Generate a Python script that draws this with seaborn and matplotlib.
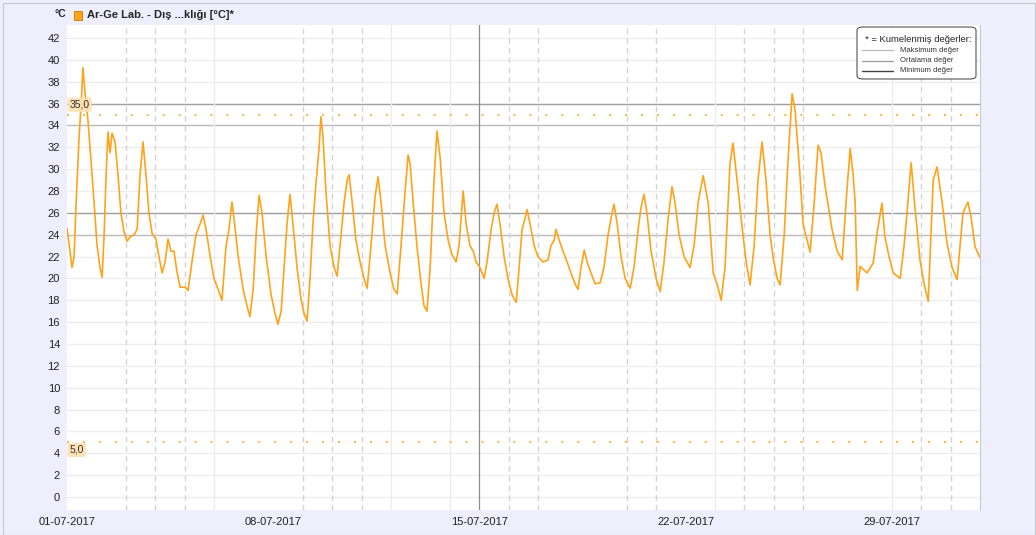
import pandas as pd
import matplotlib.pyplot as plt
from matplotlib.patches import Rectangle, FancyBboxPatch
from matplotlib.lines import Line2D
import seaborn as sns

# time (days since 01-07-2017 00:00) and temperature
days = [0.00, 0.10, 0.17, 0.24, 0.31, 0.41, 0.48, 0.54, 0.61, 0.71, 0.88, 1.02, 1.12, 1.19, 1.26, 1.32,
        1.39, 1.46, 1.53, 1.63, 1.73, 1.83, 1.94, 2.04, 2.14, 2.28, 2.38, 2.48, 2.58, 2.68, 2.78, 2.89,
        3.02, 3.12, 3.23, 3.33, 3.43, 3.53, 3.63, 3.74, 3.84, 4.01, 4.11, 4.24, 4.38, 4.52, 4.62, 4.72,
        4.86, 4.99, 5.13, 5.26, 5.40, 5.50, 5.60, 5.67, 5.81, 5.98, 6.11, 6.21, 6.32, 6.42, 6.52, 6.62,
        6.76, 6.93, 7.06, 7.16, 7.27, 7.37, 7.47, 7.57, 7.67, 7.81, 7.95, 8.05, 8.15, 8.25, 8.35, 8.46,
        8.56, 8.62, 8.69, 8.79, 8.93, 9.07, 9.17, 9.27, 9.41, 9.51, 9.58, 9.68, 9.81, 9.95, 10.08, 10.19,
        10.32, 10.46, 10.56, 10.66, 10.80, 10.97, 11.10, 11.21, 11.34, 11.48, 11.58, 11.65, 11.75, 11.88,
        12.02, 12.12, 12.22, 12.33, 12.46, 12.56, 12.67, 12.80, 12.94, 13.07, 13.21, 13.31, 13.45, 13.55,
        13.68, 13.79, 13.89, 14.02, 14.16, 14.26, 14.40, 14.50, 14.60, 14.70, 14.84, 14.97, 15.11, 15.25,
        15.35, 15.45, 15.55, 15.62, 15.72, 15.86, 15.99, 16.16, 16.33, 16.43, 16.54, 16.60, 16.71, 16.84,
        16.98, 17.11, 17.25, 17.35, 17.45, 17.56, 17.66, 17.79, 17.93, 18.10, 18.23, 18.37, 18.47, 18.57,
        18.68, 18.81, 18.95, 19.12, 19.25, 19.39, 19.49, 19.59, 19.69, 19.83, 20.00, 20.14, 20.27, 20.41,
        20.54, 20.64, 20.78, 20.95, 21.15, 21.29, 21.43, 21.60, 21.77, 21.94, 22.07, 22.21, 22.34, 22.51,
        22.61, 22.75, 22.92, 23.06, 23.19, 23.33, 23.46, 23.60, 23.73, 23.87, 23.97, 24.11, 24.21, 24.35,
        24.48, 24.62, 24.72, 24.89, 24.99, 25.13, 25.23, 25.37, 25.50, 25.60, 25.74, 25.98, 26.15, 26.32,
        26.45, 26.59, 26.69, 26.76, 26.83, 26.93, 27.16, 27.37, 27.50, 27.67, 27.77, 27.91, 28.05, 28.29,
        28.42, 28.52, 28.66, 28.79, 28.96, 29.10, 29.24, 29.41, 29.54, 29.71, 29.88, 30.05, 30.22, 30.42,
        30.59, 30.70, 30.83, 31.00]
temps = [24.6, 22.5, 21.0, 22.0, 27.0, 33.0, 36.0, 39.3, 37.0, 34.5, 28.4, 23.0, 21.0, 20.1, 24.0, 29.0,
         33.4, 31.5, 33.3, 32.5, 29.5, 26.0, 24.2, 23.4, 23.8, 24.0, 24.5, 29.5, 32.5, 29.5, 26.0, 24.1,
         23.6, 22.0, 20.5, 21.5, 23.6, 22.5, 22.5, 20.5, 19.2, 19.2, 18.9, 21.5, 24.0, 25.0, 25.8, 24.5,
         22.0, 20.0, 19.0, 18.0, 23.0, 24.5, 27.0, 25.5, 22.0, 19.0, 17.5, 16.5, 19.0, 24.0, 27.6, 26.0,
         22.0, 18.5, 16.8, 15.8, 17.0, 21.0, 25.0, 27.7, 25.0, 21.0, 18.0, 16.8, 16.1, 20.0, 25.0, 29.0,
         32.0, 34.8, 33.0, 28.0, 23.0, 21.0, 20.2, 23.0, 27.0, 29.0, 29.5, 27.0, 23.5, 21.5, 20.0, 19.1,
         23.0, 27.5, 29.3, 27.0, 23.0, 20.5, 19.0, 18.6, 23.0, 28.0, 31.3, 30.5, 27.0, 23.0,
         19.5, 17.5, 17.0, 21.0, 29.0, 33.5, 31.0, 26.0, 23.5, 22.2, 21.5, 23.0, 28.0, 25.0,
         23.0, 22.5, 21.5, 21.0, 20.0, 21.5, 24.5, 26.0, 26.8, 25.0, 22.0, 20.0, 18.5, 17.8,
         21.0, 24.5, 25.5, 26.3, 25.0, 23.0, 22.0, 21.5, 21.7, 23.0, 23.5, 24.5, 23.5, 22.5,
         21.5, 20.5, 19.5, 19.0, 21.0, 22.6, 21.5, 20.5, 19.5, 19.6, 21.0, 24.0, 25.5, 26.8,
         25.0, 22.0, 20.0, 19.1, 21.0, 24.5, 26.5, 27.7, 26.0, 22.5, 20.0, 18.8, 21.5, 25.5,
         28.4, 27.0, 24.0, 22.0, 21.0, 23.0, 27.0, 29.4, 26.9, 20.5, 19.5, 18.0, 21.0, 30.5,
         32.4, 29.0, 24.7, 21.5, 19.4, 23.0, 29.0, 32.5, 29.0, 24.0, 22.0, 20.0, 19.4, 24.0,
         30.8, 36.9, 35.4, 29.3, 25.0, 23.5, 22.4, 27.0, 32.2, 31.5, 28.4, 24.4, 22.5, 21.7,
         27.0, 31.9, 29.5, 26.9, 18.9, 21.1, 20.5, 21.4, 24.1, 26.9, 23.8, 22.0, 20.5, 20.0,
         23.0, 26.0, 30.6, 26.5, 21.7, 19.5, 17.9, 29.0, 30.2, 27.0, 23.2, 21.0, 19.9, 26.0,
         27.0, 25.5, 22.9, 21.9]

# reference lines
max_lines = [36, 26]
min_lines = [34, 24]
limit_values = [35.0, 5.0]
limit_labels = ["35,0", "5,0"]
# vertical day markers (days since 01-07)
dashed_days = [2, 3, 4, 8, 9, 10, 15, 16, 19, 20, 23, 24, 25, 29, 30]
faint_days = [5, 11, 13, 22, 28]
now_day = 14
tick_labels = ["01-07-2017", "08-07-2017", "15-07-2017", "22-07-2017", "29-07-2017"]

start = pd.Timestamp("2017-07-01")
df = pd.DataFrame({"time": start + pd.to_timedelta(days, unit="D"), "temp": temps})

sns.set_style("white")
plt.rcParams["font.family"] = ["Liberation Sans", "DejaVu Sans"]

bg = "#eeeefc"
orange = "#ffa31a"
fig = plt.figure(figsize=(10.36, 5.35), dpi=100, facecolor=bg)
ax = fig.add_axes([0.0647, 0.0467, 0.8813, 0.9066])
ax.set_facecolor("white")

for v in range(0, 44, 2):
    ax.axhline(v, color="#ededed", lw=0.9, zorder=0)
for v in max_lines:
    ax.axhline(v, color="#a0a0a0", lw=1.0, zorder=1)
for v in min_lines:
    ax.axhline(v, color="#bdbdbd", lw=1.0, zorder=1)
for d in dashed_days:
    ax.axvline(start + pd.Timedelta(days=d), color="#d4d4d4", lw=1.0, ls=(0, (4, 3)), zorder=1)
for d in faint_days:
    ax.axvline(start + pd.Timedelta(days=d), color="#ececec", lw=1.0, zorder=1)
ax.axvline(start + pd.Timedelta(days=now_day), color="#8c8c8c", lw=0.9, zorder=1)

# dotted limit lines, dash pattern scales with lw -> ~16 px period
for v in limit_values:
    ax.axhline(v, color="#ffb340", lw=1.4, ls=(0, (1.0, 7.2)), zorder=2)

sns.lineplot(data=df, x="time", y="temp", ax=ax, color=orange, lw=1.2, zorder=3)

for v, lab, off in zip(limit_values, limit_labels, [0.9, -0.7]):
    ax.text(start + pd.Timedelta(hours=2), v + off, lab, fontsize=7.5, va="center", color="#333",
            bbox=dict(boxstyle="round,pad=0.2", fc="#fde0b0", ec="none", alpha=0.9), zorder=4)

ax.set_xlim(start, start + pd.Timedelta(days=31))
ax.set_ylim(-1.2, 43.2)
ax.set_yticks(range(0, 43, 2))
ax.set_xticks([start + pd.Timedelta(days=7 * i) for i in range(5)])
ax.set_xticklabels(tick_labels)
ax.tick_params(axis="both", labelsize=8, colors="#222", length=3, width=0.6, pad=2)
ax.tick_params(axis="x", length=0, pad=5)
ax.tick_params(axis="y", color="#cccccc")
ax.set_xlabel("")
ax.set_ylabel("")
for s in ["top", "left", "bottom"]:
    ax.spines[s].set_visible(False)
ax.spines["right"].set_color("#c8c8d8")

# header
fig.text(0.053, 0.973, "°C", fontsize=7.5, fontweight="bold", ha="left", va="center")
fig.patches.append(Rectangle((0.0715, 0.962), 0.0077, 0.018, transform=fig.transFigure,
                             fc=orange, ec="#c87800", lw=0.6))
fig.text(0.084, 0.972, "Ar-Ge Lab. - Dış ...klığı [°C]*", fontsize=8, fontweight="bold",
         ha="left", va="center")
fig.patches.append(Rectangle((0.003, 0.0), 0.996, 0.995, transform=fig.transFigure,
                             fc="none", ec="#c8c8c8", lw=0.8))

# aggregated values legend
lx0, ly0, lw_, lh = 857 / 1036, 1 - 79 / 535, 119 / 1036, 52 / 535
fig.patches.append(FancyBboxPatch((lx0, ly0), lw_, lh, transform=fig.transFigure,
                                  boxstyle="round,pad=0,rounding_size=0.006",
                                  fc="white", ec="#555", lw=0.8, zorder=5))
fig.text(865 / 1036, 1 - 39 / 535, "* = Kumelenmiş değerler:", fontsize=6.8, va="center", zorder=6)
for i, (lab, c) in enumerate([("Maksimum değer", "#bdbdbd"), ("Ortalama değer", "#a0a0a0"),
                              ("Minimum değer", "#444444")]):
    yy = 1 - (50 + 10.5 * i) / 535
    fig.lines.append(Line2D([862 / 1036, 893 / 1036], [yy, yy], transform=fig.transFigure,
                            color=c, lw=1.0, zorder=6))
    fig.text(900 / 1036, yy, lab, fontsize=5.5, va="center", color="#333", zorder=6)

fig.savefig("out.png", dpi=100, facecolor=bg)
